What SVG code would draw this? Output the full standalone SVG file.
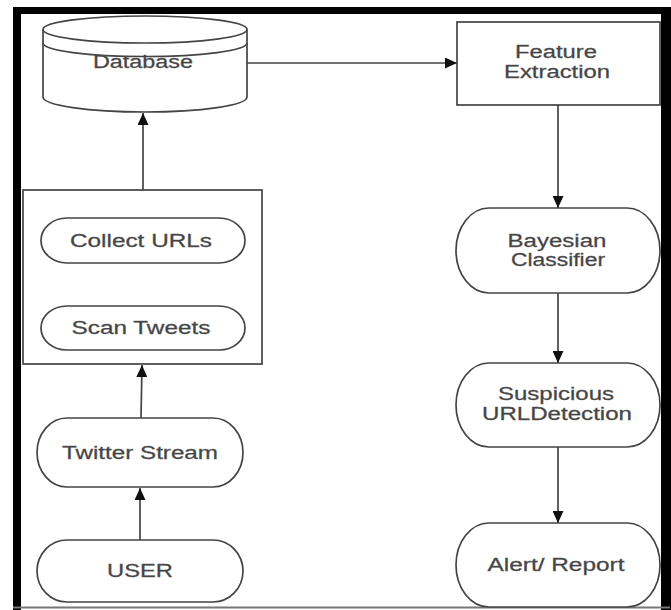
<svg xmlns="http://www.w3.org/2000/svg" width="671" height="610" viewBox="0 0 671 610">
<defs>
<marker id="ah" viewBox="0 0 12 11" refX="12" refY="5.5" markerWidth="12" markerHeight="11" markerUnits="userSpaceOnUse" orient="auto">
<path d="M0,0 L12,5.5 L0,11 z" fill="#111"/>
</marker>
</defs>
<style>
.shape{fill:#fff;stroke:#444;stroke-width:1.7}
.lbl{font-family:"Liberation Sans",Arial,sans-serif;font-size:18px;fill:#444;stroke:#555;stroke-width:0.3;text-anchor:middle}
.conn{stroke:#444;stroke-width:1.7;fill:none;marker-end:url(#ah)}
</style>
<rect x="0" y="0" width="671" height="610" fill="#fff"/>
<g id="frame">
<rect x="13" y="7" width="657" height="7" fill="#000"/>
<rect x="13" y="7" width="8" height="603" fill="#000"/>
<rect x="661" y="7" width="10" height="603" fill="#000"/>
<line x1="13" y1="607.5" x2="670" y2="607.5" stroke="#777" stroke-width="2"/>
</g>
<g id="database">
<path class="shape" d="M43,29.5 L43,97 A102,15 0 0 0 247,97 L247,29.5"/>
<ellipse class="shape" cx="145" cy="29.5" rx="102" ry="13.5"/>
<path class="shape" style="fill:none" d="M43,43 A102,13.5 0 0 0 247,43"/>
<text class="lbl" x="143" y="68" textLength="100" lengthAdjust="spacingAndGlyphs">Database</text>
</g>
<g id="feature">
<rect class="shape" x="457" y="22" width="203" height="83"/>
<text class="lbl" x="556" y="58" textLength="82" lengthAdjust="spacingAndGlyphs">Feature</text>
<text class="lbl" x="557" y="78" textLength="106" lengthAdjust="spacingAndGlyphs">Extraction</text>
</g>
<g id="container">
<rect class="shape" x="23" y="190" width="239" height="174"/>
</g>
<g id="collect">
<rect class="shape" x="41" y="218" width="204" height="45" rx="26" ry="22.5"/>
<text class="lbl" x="141" y="247" textLength="142" lengthAdjust="spacingAndGlyphs">Collect URLs</text>
</g>
<g id="scan">
<rect class="shape" x="41" y="306" width="204" height="44" rx="26" ry="22"/>
<text class="lbl" x="141" y="334" textLength="139" lengthAdjust="spacingAndGlyphs">Scan Tweets</text>
</g>
<g id="twitter">
<rect class="shape" x="37" y="418" width="206" height="69" rx="30" ry="34.5"/>
<text class="lbl" x="140" y="459" textLength="156" lengthAdjust="spacingAndGlyphs">Twitter Stream</text>
</g>
<g id="user">
<rect class="shape" x="37" y="540" width="206" height="62" rx="30" ry="31"/>
<text class="lbl" x="140" y="577" textLength="66" lengthAdjust="spacingAndGlyphs">USER</text>
</g>
<g id="bayesian">
<rect class="shape" x="456" y="208" width="204" height="85" rx="33" ry="42.5"/>
<text class="lbl" x="557" y="247" textLength="99" lengthAdjust="spacingAndGlyphs">Bayesian</text>
<text class="lbl" x="558" y="266" textLength="94" lengthAdjust="spacingAndGlyphs">Classifier</text>
</g>
<g id="suspicious">
<rect class="shape" x="456" y="363" width="204" height="84" rx="33" ry="42"/>
<text class="lbl" x="556" y="400" textLength="116" lengthAdjust="spacingAndGlyphs">Suspicious</text>
<text class="lbl" x="557" y="420" textLength="150" lengthAdjust="spacingAndGlyphs">URLDetection</text>
</g>
<g id="alert">
<rect class="shape" x="456" y="523" width="204" height="84" rx="33" ry="42"/>
<text class="lbl" x="556" y="571" textLength="137" lengthAdjust="spacingAndGlyphs">Alert/ Report</text>
</g>
<g id="connectors">
<line class="conn" x1="247" y1="63" x2="457" y2="63"/>
<line class="conn" x1="143" y1="190" x2="143" y2="113"/>
<line class="conn" x1="141" y1="418" x2="142" y2="365"/>
<line class="conn" x1="140" y1="540" x2="140" y2="488"/>
<line class="conn" x1="558" y1="105" x2="558" y2="208"/>
<line class="conn" x1="558" y1="293" x2="558" y2="363"/>
<line class="conn" x1="558" y1="447" x2="558" y2="523"/>
</g>
</svg>
